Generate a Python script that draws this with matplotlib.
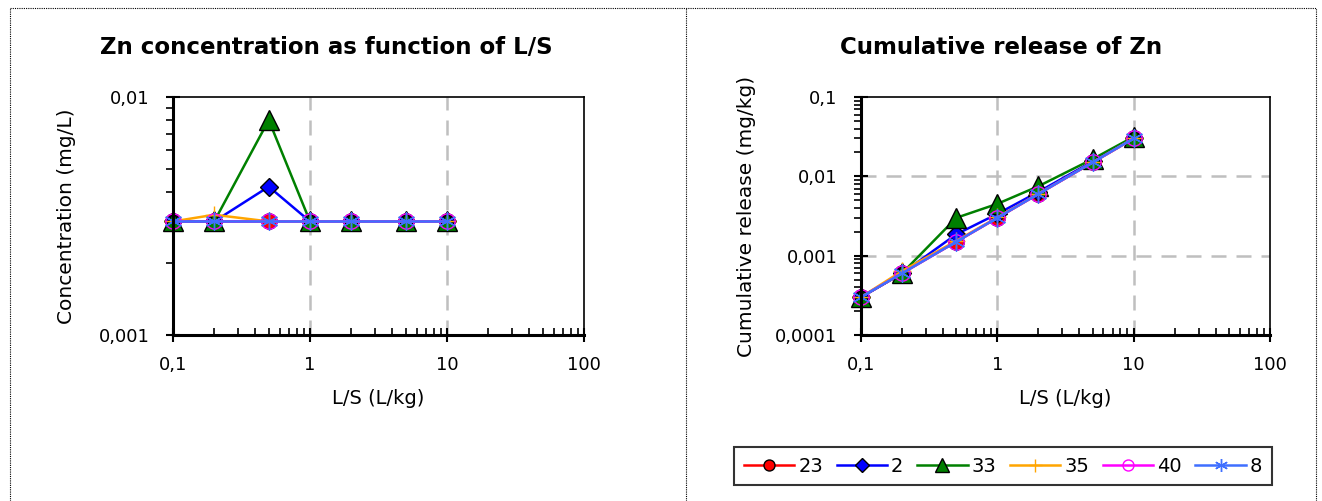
import matplotlib
matplotlib.use("Agg")
import matplotlib.pyplot as plt
from matplotlib.ticker import LogLocator, FuncFormatter, NullFormatter
from matplotlib.lines import Line2D

plt.rcParams['font.family'] = ['DejaVu Sans']

ls = [0.1, 0.2, 0.5, 1, 2, 5, 10]
series_names = ["23", "2", "33", "35", "40", "8"]

conc_23 = [0.003, 0.003, 0.003, 0.003, 0.003, 0.003, 0.003]
conc_2 = [0.003, 0.003, 0.0042, 0.003, 0.003, 0.003, 0.003]
conc_33 = [0.003, 0.003, 0.008, 0.003, 0.003, 0.003, 0.003]
conc_35 = [0.003, 0.0032, 0.003, 0.003, 0.003, 0.003, 0.003]
conc_40 = [0.003, 0.003, 0.003, 0.003, 0.003, 0.003, 0.003]
conc_8 = [0.003, 0.003, 0.003, 0.003, 0.003, 0.003, 0.003]

cum_23 = [0.0003, 0.0006, 0.0015, 0.003, 0.006, 0.015, 0.030]
cum_2 = [0.0003, 0.0006, 0.00186, 0.00336, 0.00636, 0.0154, 0.0304]
cum_33 = [0.0003, 0.0006, 0.0030, 0.0045, 0.0075, 0.0165, 0.0315]
cum_35 = [0.0003, 0.00064, 0.00154, 0.00304, 0.00604, 0.0150, 0.030]
cum_40 = [0.0003, 0.0006, 0.0015, 0.003, 0.006, 0.015, 0.030]
cum_8 = [0.0003, 0.0006, 0.0015, 0.003, 0.006, 0.015, 0.030]

conc = [conc_23, conc_2, conc_33, conc_35, conc_40, conc_8]
cum = [cum_23, cum_2, cum_33, cum_35, cum_40, cum_8]

x_grid = [1, 10]
y_grid_right = [0.001, 0.01]

styles = [
    dict(color='#FF0000', marker='o', markerfacecolor='#FF0000', markeredgecolor='black', markersize=11),
    dict(color='#0000FF', marker='D', markerfacecolor='#0000FF', markeredgecolor='black', markersize=9.5),
    dict(color='#008000', marker='^', markerfacecolor='#008000', markeredgecolor='black', markersize=14),
    dict(color='#FFA500', marker='+', markeredgecolor='#FFA500', markersize=13),
    dict(color='#FF00FF', marker='o', markerfacecolor='none', markeredgecolor='#FF00FF', markersize=11),
    dict(color='#3F6FFF', marker=(6, 2, 0), markeredgecolor='#3F6FFF', markersize=13),
]

fig = plt.figure(figsize=(13.22, 5.01), dpi=100)

def comma(v, pos):
    s = ('%.10f' % v).rstrip('0').rstrip('.')
    return s.replace('.', ',')

def style_axes(ax, ymin, ymax, ygrid):
    ax.set_xscale('log')
    ax.set_yscale('log')
    ax.set_xlim(0.1, 100)
    ax.set_ylim(ymin, ymax)
    ax.xaxis.set_major_locator(LogLocator(base=10, numticks=10))
    ax.yaxis.set_major_locator(LogLocator(base=10, numticks=10))
    ax.xaxis.set_minor_locator(LogLocator(base=10, subs=range(2, 10), numticks=10))
    ax.yaxis.set_minor_locator(LogLocator(base=10, subs=range(2, 10), numticks=10))
    ax.xaxis.set_major_formatter(FuncFormatter(comma))
    ax.yaxis.set_major_formatter(FuncFormatter(comma))
    ax.xaxis.set_minor_formatter(NullFormatter())
    ax.yaxis.set_minor_formatter(NullFormatter())
    ax.tick_params(axis='x', which='major', direction='inout', length=10, width=1.5, labelsize=13, pad=10)
    ax.tick_params(axis='x', which='minor', direction='in', length=5, width=1.2)
    ax.tick_params(axis='y', which='major', direction='inout', length=10, width=1.5, labelsize=13, pad=12)
    ax.tick_params(axis='y', which='minor', direction='out', length=5, width=1.2)
    for s in ['left', 'bottom']:
        ax.spines[s].set_linewidth(2.2)
    for s in ['top', 'right']:
        ax.spines[s].set_linewidth(1.2)
    gs = dict(color='#BFBFBF', linestyle=(0, (6, 4)), linewidth=1.8, zorder=0.5)
    for xv in x_grid:
        ax.axvline(xv, **gs)
    for yv in ygrid:
        ax.axhline(yv, **gs)
    ax.set_xlabel('L/S (L/kg)', fontsize=14, labelpad=11)

ax1 = fig.add_axes([173/1322, 1-335/501, (584-173)/1322, (335-97)/501])
ax2 = fig.add_axes([861/1322, 1-335/501, (1270-861)/1322, (335-97)/501])

for data, st, name in zip(conc, styles, series_names):
    ax1.plot(ls, data, linewidth=1.8, label=name, clip_on=False, **st)
for data, st, name in zip(cum, styles, series_names):
    ax2.plot(ls, data, linewidth=1.8, label=name, clip_on=False, **st)

style_axes(ax1, 0.001, 0.01, [])
style_axes(ax2, 0.0001, 0.1, y_grid_right)
ax1.set_ylabel('Concentration (mg/L)', fontsize=14.5, labelpad=16)
ax2.set_ylabel('Cumulative release (mg/kg)', fontsize=14.5, labelpad=14)

fig.text(326/1322, 1-47/501, 'Zn concentration as function of L/S', ha='center', va='center',
         fontsize=16.5, fontweight='bold')
fig.text(1001/1322, 1-47/501, 'Cumulative release of Zn', ha='center', va='center',
         fontsize=16.5, fontweight='bold')

handles = [Line2D([0], [0], linewidth=1.8, **dict(st, markersize=st['markersize'] * 0.72)) for st in styles]
leg = fig.legend(handles, series_names, loc='center', bbox_to_anchor=(1003/1322, 1-466/501),
                 ncol=6, fontsize=14, frameon=True, fancybox=False, edgecolor='black',
                 handlelength=2.6, handletextpad=0.2, columnspacing=0.7, borderpad=0.5)
leg.get_frame().set_linewidth(1.5)

# dotted panel borders
dot = dict(color='black', linestyle=(0, (1, 1)), linewidth=0.8, transform=fig.transFigure)
fig.add_artist(Line2D([10/1322, 1316/1322], [1-8/501, 1-8/501], **dot))
fig.add_artist(Line2D([10/1322, 10/1322], [0, 1-8/501], **dot))
fig.add_artist(Line2D([686/1322, 686/1322], [0, 1-8/501], **dot))
fig.add_artist(Line2D([1316/1322, 1316/1322], [0, 1-8/501], **dot))

fig.savefig('out.png', dpi=100)
